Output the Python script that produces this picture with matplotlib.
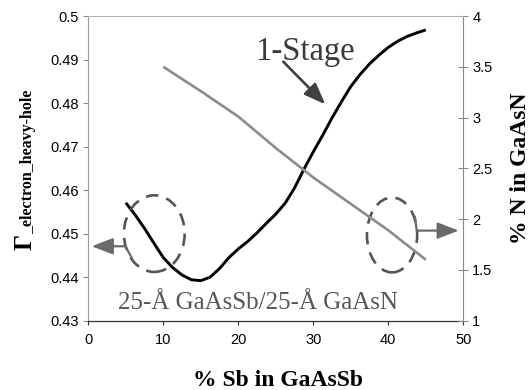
import matplotlib
matplotlib.use("Agg")
import matplotlib.pyplot as plt
from matplotlib.patches import Ellipse

plt.rcParams['lines.scale_dashes'] = False

# Gamma (electron / heavy-hole) vs. Sb content, left axis
sb_gamma = [5, 6.25, 7.5, 8.75, 10, 11.25, 12.5, 13.75, 15, 16.25, 17.5, 18.75, 20,
            21.25, 22.5, 23.75, 25, 26.25, 27.5, 28.75, 30, 31.25, 32.5, 33.75, 35,
            36.25, 37.5, 38.75, 40, 41.25, 42.5, 43.75, 45]
gamma = [0.4571, 0.4543, 0.4512, 0.4478, 0.4445, 0.4422, 0.4405, 0.4394, 0.4392,
         0.4400, 0.4420, 0.4445, 0.4465, 0.4482, 0.4502, 0.4524, 0.4545, 0.4570,
         0.4605, 0.4648, 0.4688, 0.4726, 0.4766, 0.4803, 0.4838, 0.4866, 0.4890,
         0.4910, 0.4928, 0.4942, 0.4953, 0.4961, 0.4968]

# Nitrogen content needed vs. Sb content, right axis
sb_n = [10, 15, 20, 25, 30, 35, 40, 45]
n_pct = [3.50, 3.26, 3.01, 2.70, 2.41, 2.15, 1.89, 1.60]

x_ticks = [0, 10, 20, 30, 40, 50]
x_labels = ['0', '10', '20', '30', '40', '50']
gamma_ticks = [0.43, 0.44, 0.45, 0.46, 0.47, 0.48, 0.49, 0.50]
gamma_labels = ['0.43', '0.44', '0.45', '0.46', '0.47', '0.48', '0.49', '0.5']
n_ticks = [1, 1.5, 2, 2.5, 3, 3.5, 4]
n_labels = ['1', '1.5', '2', '2.5', '3', '3.5', '4']

SERIF = 'Liberation Serif'
SANS = 'Liberation Sans'
W, H = 531, 390

fig = plt.figure(figsize=(W / 100, H / 100), dpi=100)
ax = fig.add_axes([88.3 / W, 1 - 320.7 / H, 375 / W, 304.7 / H])
ax2 = ax.twinx()

ax.plot(sb_gamma, gamma, color='black', lw=2.1, solid_capstyle='butt',
        solid_joinstyle='round', zorder=3)
ax2.plot(sb_n, n_pct, color='#8c8c8c', lw=1.9, solid_capstyle='butt', zorder=3)

ax.set_xlim(0, 50)
ax.set_ylim(0.43, 0.5)
ax2.set_ylim(1, 4)

ax.set_xticks(x_ticks)
ax.set_xticklabels(x_labels, fontfamily=SANS, fontsize=10.5)
ax.set_yticks(gamma_ticks)
ax.set_yticklabels(gamma_labels, fontfamily=SANS, fontsize=10.5)
ax2.set_yticks(n_ticks)
ax2.set_yticklabels(n_labels, fontfamily=SANS, fontsize=10.5)

ax.tick_params(axis='y', direction='out', length=3.6, width=0.8, color='#8a8a8a', pad=3)
ax.tick_params(axis='x', direction='out', length=3, width=0.8, color='#333333', pad=6)
ax2.tick_params(axis='y', direction='inout', length=7, width=0.8, color='#8a8a8a', pad=3)

for name in ('top', 'right'):
    ax.spines[name].set_visible(False)
ax.spines['left'].set_color('#9a9a9a')
ax.spines['bottom'].set_color('#333333')
ax.spines['bottom'].set_linewidth(0.9)
for name in ('left', 'bottom'):
    ax2.spines[name].set_visible(False)
ax2.spines['top'].set_color('#b0b0b0')
ax2.spines['top'].set_linewidth(0.7)
ax2.spines['right'].set_color('#8a8a8a')

# Dashed ellipses marking which curve belongs to which axis
ell_style = dict(fill=False, edgecolor='#555555', lw=1.9, linestyle=(0, (9, 6)), zorder=4)
ax.add_patch(Ellipse((8.8, 0.4500), 8.1, 0.0176, **ell_style))
ax.add_patch(Ellipse((40.5, 0.4497), 6.7, 0.0172, **ell_style))

head = '-|>,head_length=1.3,head_width=0.5'

# Arrow from the left ellipse to the left axis
ax.plot([5.8, 4.95, 2.6], [0.4444, 0.4471, 0.4471], color='#6a6a6a', lw=1.6, zorder=4)
ax.annotate('', xy=(0.45, 0.4471), xytext=(3.0, 0.4471),
            arrowprops=dict(arrowstyle=head, color='#6a6a6a', lw=1.6,
                            shrinkA=0, shrinkB=0), zorder=4)

# Arrow from the right ellipse to the right axis
ax.plot([43.56, 43.79, 47.0], [0.4538, 0.4507, 0.4507], color='#6a6a6a', lw=1.6, zorder=4)
ax.annotate('', xy=(49.4, 0.4507), xytext=(46.8, 0.4507),
            arrowprops=dict(arrowstyle=head, color='#6a6a6a', lw=1.6,
                            shrinkA=0, shrinkB=0), zorder=4)

# "1-Stage" label with pointer
ax.text(22.2, 0.4900, '1-Stage', fontfamily=SERIF, fontsize=23.5, color='#3a3a3a',
        ha='left', va='baseline')
ax.annotate('', xy=(31.6, 0.4797), xytext=(26.0, 0.4895),
            arrowprops=dict(arrowstyle=head, color='#404040', lw=1.9,
                            shrinkA=0, shrinkB=0))

ax.text(22.56, 0.4327, '25-Å GaAsSb/25-Å GaAsN', fontfamily=SERIF, fontsize=18,
        color='#555555', ha='center', va='baseline')

# Axis titles
fig.text(278 / W, 1 - 380 / H, '% Sb in GaAsSb', fontfamily=SERIF, fontsize=17,
         fontweight='bold', ha='center', va='center')
fig.text(520 / W, 1 - 168 / H, '% N in GaAsN', fontfamily=SERIF, fontsize=17,
         fontweight='bold', ha='center', va='center', rotation=90)
fig.text(32 / W, 1 - 250 / H, 'Γ', fontfamily=SERIF, fontsize=18, fontweight='bold',
         ha='left', va='baseline', rotation=90, rotation_mode='anchor')
fig.text(32 / W, 1 - 234 / H, '_electron_heavy-hole', fontfamily=SERIF, fontsize=11.5,
         fontweight='bold', ha='left', va='baseline', rotation=90, rotation_mode='anchor')

fig.savefig('out.png', dpi=100)
